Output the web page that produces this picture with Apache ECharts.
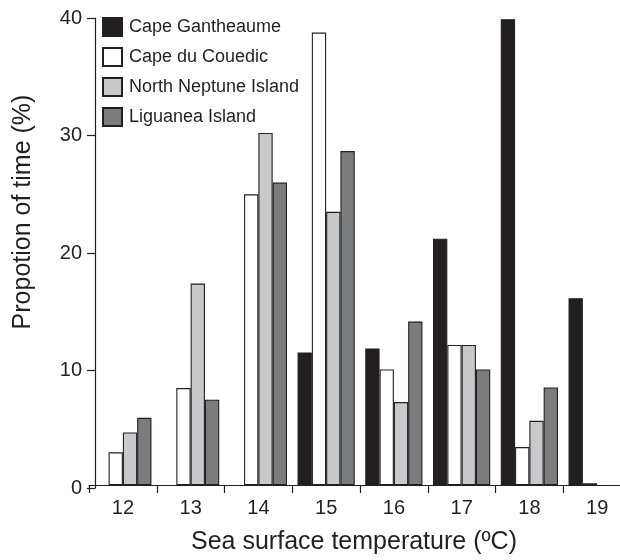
<!DOCTYPE html>
<html>
<head>
<meta charset="utf-8">
<script src="https://cdn.jsdelivr.net/npm/echarts@6/dist/echarts.min.js"></script>
<style>
html,body{margin:0;padding:0;background:#fff;overflow:hidden;width:620px;height:560px;}
#chart{width:640px;height:560px;}
</style>
</head>
<body>
<div id="chart"></div>
<script>
var categories = ['12', '13', '14', '15', '16', '17', '18', '19'];
var capeGantheaume = ['-', '-', '-', 11.35, 11.7, 21.1, 39.9, 16.0];
var capeDuCouedic = [2.8, 8.3, 24.9, 38.75, 9.9, 12.0, 3.25, 0.15];
var northNeptune = [4.5, 17.25, 30.15, 23.4, 7.1, 12.0, 5.5, '-'];
var liguanea = [5.75, 7.3, 25.9, 28.6, 14.0, 9.9, 8.35, '-'];
var seriesNames = ['Cape Gantheaume', 'Cape du Couedic', 'North Neptune Island', 'Liguanea Island'];
var yTicks = [0, 10, 20, 30, 40];

var font = "'Liberation Sans', Arial, Helvetica, sans-serif";
var ink = '#231f20';
var fills = ['#231f20', '#ffffff', '#c8c9cb', '#7b7c7e'];
var dataSets = [capeGantheaume, capeDuCouedic, northNeptune, liguanea];

var chart = echarts.init(document.getElementById('chart'), null, {renderer: 'canvas'});
chart.setOption({
  animation: false,
  backgroundColor: '#ffffff',
  textStyle: {fontFamily: font, color: ink},
  grid: [
    {left: 89, width: 542, top: 18, bottom: 72, containLabel: false},
    {left: 95, width: 500, top: 18, bottom: 72, containLabel: false}
  ],
  legend: {
    orient: 'vertical', left: 97, top: 12,
    itemWidth: 19, itemHeight: 18, itemGap: 10,
    icon: 'rect',
    textStyle: {fontFamily: font, fontSize: 18, lineHeight: 18, color: ink, padding: [0, 0, 0, 2]},
    data: seriesNames
  },
  xAxis: [{
    type: 'category',
    gridIndex: 0,
    data: categories,
    boundaryGap: true,
    name: 'Sea surface temperature (ºC)',
    nameLocation: 'middle',
    nameGap: 45,
    nameTextStyle: {fontFamily: font, fontSize: 25, color: ink, padding: [0, 12, 0, 0]},
    axisLine: {show: true, lineStyle: {color: ink, width: 1.2}},
    axisTick: {show: true, interval: 0, length: 8, inside: false, lineStyle: {color: ink, width: 1.2}},
    axisLabel: {interval: 0, fontFamily: font, fontSize: 20, color: ink, margin: 13},
    splitLine: {show: false}
  }, {
    type: 'category',
    gridIndex: 1,
    data: categories,
    show: false
  }],
  yAxis: [{
    type: 'value',
    gridIndex: 0,
    min: yTicks[0], max: yTicks[yTicks.length - 1], interval: 10,
    show: false,
    splitLine: {show: false}
  }, {
    type: 'value',
    gridIndex: 1,
    min: yTicks[0], max: yTicks[yTicks.length - 1], interval: 10,
    name: 'Propotion of time (%)',
    nameLocation: 'middle',
    nameRotate: 90,
    nameGap: 59,
    nameTextStyle: {fontFamily: font, fontSize: 25, color: ink, padding: [0, 0, 0, 82]},
    axisLine: {show: true, lineStyle: {color: ink, width: 1.2}},
    axisTick: {show: true, length: 8, inside: false, lineStyle: {color: ink, width: 1.2}},
    axisLabel: {fontFamily: font, fontSize: 20, color: ink, margin: 13},
    splitLine: {show: false}
  }],
  series: dataSets.map(function (d, i) {
    return {
      name: seriesNames[i],
      type: 'bar',
      xAxisIndex: 0,
      yAxisIndex: 0,
      data: d,
      barWidth: 14.3,
      barGap: '0%',
      itemStyle: {color: fills[i], borderColor: ink, borderWidth: 1.1},
      emphasis: {disabled: true}
    };
  })
});
</script>
</body>
</html>
